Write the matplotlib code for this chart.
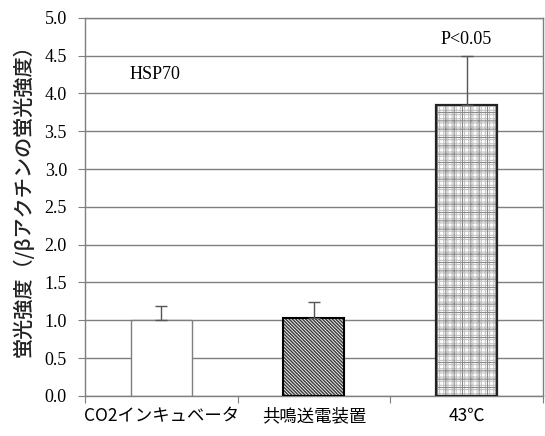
import numpy as np
import matplotlib
matplotlib.use("Agg")
import matplotlib.pyplot as plt

plt.rcParams['font.family'] = ['Noto Sans CJK JP', 'DejaVu Sans']

# data
groups = ['CO2インキュベータ', '共鳴送電装置', '43℃']
values = [1.0, 1.03, 3.85]
errors = [0.19, 0.21, 0.64]
yticks = [0.0, 0.5, 1.0, 1.5, 2.0, 2.5, 3.0, 3.5, 4.0, 4.5, 5.0]

fig = plt.figure(figsize=(5.45, 4.36), dpi=100)
ax = fig.add_axes([0.156, 0.092, 0.84, 0.867])

x = np.arange(len(groups))
w = 0.4
grey = '#7f7f7f'

ax.set_axisbelow(True)
ax.yaxis.grid(True, color=grey, linewidth=1.0)

# bar 1: plain white
ax.bar(x[0], values[0], w, color='white', edgecolor=grey, linewidth=1.0, zorder=2)
# bar 2: dense diagonal hatch
plt.rcParams['hatch.linewidth'] = 1.1
ax.bar(x[1], values[1], w, color='white', edgecolor='#404040', hatch='\\' * 10, linewidth=0, zorder=2)
ax.bar(x[1], values[1], w, color='none', edgecolor='black', linewidth=1.5, zorder=3)
# bar 3: check / grid pattern
plt.rcParams['hatch.linewidth'] = 0.8
ax.bar(x[2], values[2], w, color='white', edgecolor='#c4c4c4', hatch='++++', linewidth=0, zorder=2)
ax.bar(x[2], values[2], w, color='none', edgecolor='#8a8a8a', hatch='++', linewidth=0, zorder=2)
ax.bar(x[2], values[2], w, color='none', edgecolor='#222222', linewidth=1.6, zorder=3)

# upper error bars only
ax.errorbar(x, values, yerr=[np.zeros(3), errors], fmt='none', ecolor='#555555',
            elinewidth=1.0, capsize=4, capthick=1.0, zorder=4)

ax.set_xlim(-0.5, 2.5)
ax.set_ylim(0, 5.0)
ax.set_yticks(yticks)
ax.set_yticklabels([f'{t:.1f}' for t in yticks], family='Liberation Serif', fontsize=13)
ax.tick_params(axis='y', length=5, color=grey, pad=8)

ax.set_xticks([-0.5, 0.5, 1.5, 2.5])
ax.set_xticklabels([])
ax.tick_params(axis='x', which='major', length=5, color=grey)
ax.set_xticks(x, minor=True)
ax.set_xticklabels(groups, minor=True, fontsize=12.5)
ax.tick_params(axis='x', which='minor', length=0, pad=8)

for s in ax.spines.values():
    s.set_color(grey)
    s.set_linewidth(1.0)

ax.set_ylabel('蛍光強度（/βアクチンの蛍光強度）', fontsize=14.5, fontweight='medium', color='#222222')
ax.yaxis.set_label_coords(-0.112, 0.53)

ax.text(-0.04, 4.25, 'HSP70', family='Liberation Serif', fontsize=13, ha='center', va='center')
ax.text(x[2], 4.71, 'P<0.05', family='Liberation Serif', fontsize=13, ha='center', va='center')

fig.savefig('out.png', dpi=100)
